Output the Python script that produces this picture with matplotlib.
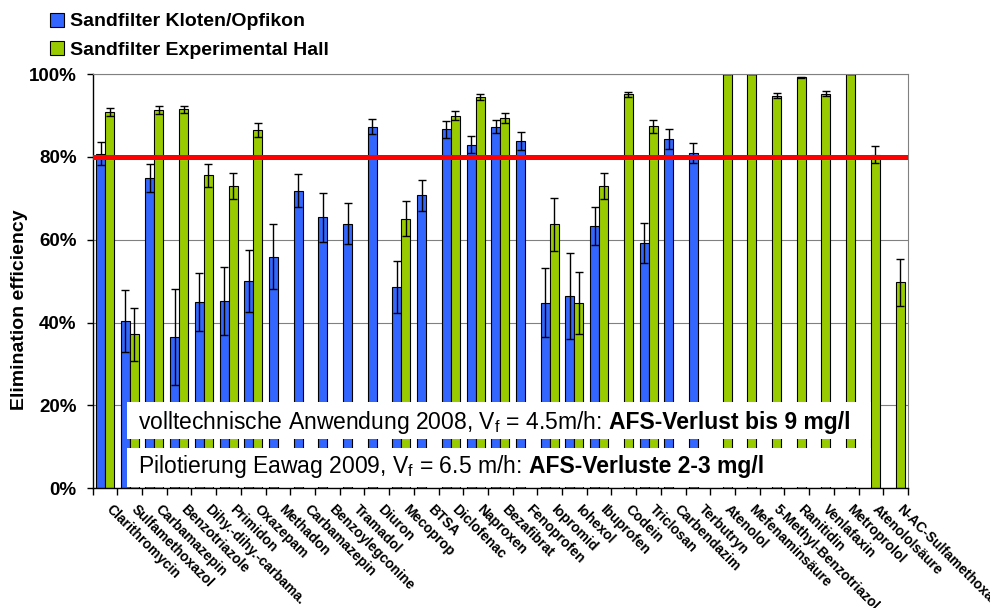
import numpy as np
import matplotlib.pyplot as plt
import matplotlib.transforms as mtransforms
from matplotlib.patches import Rectangle
from matplotlib.ticker import PercentFormatter, FixedLocator

plt.rcParams['font.family'] = ['Liberation Sans', 'DejaVu Sans']
plt.rcParams['mathtext.fontset'] = 'custom'
plt.rcParams['mathtext.rm'] = 'Liberation Sans'

nan = np.nan

substances = ['Clarithromycin', 'Sulfamethoxazol', 'Carbamazepin', 'Benzotriazole',
              'Dihy.-dihy.-carbama.', 'Primidon', 'Oxazepam', 'Methadon', 'Carbamazepin',
              'Benzoylegconine', 'Tramadol', 'Diuron', 'Mecoprop', 'BTSA', 'Diclofenac',
              'Naproxen', 'Bezafibrat', 'Fenoprofen', 'Iopromid', 'Iohexol', 'Ibuprofen',
              'Codein', 'Triclosan', 'Carbendazim', 'Terbutryn', 'Atenolol',
              'Mefenaminsäure', '5-Methyl-Benzotriazol', 'Ranitidin', 'Venlafaxin',
              'Metroprolol', 'Atenololsäure', 'N-AC-Sulfamethoxazol']

# elimination in %, Kloten/Opfikon full scale filter
kloten = [80.8, 40.4, 75.0, 36.5, 45.0, 45.2, 50.1, 55.9, 71.9, 65.4, 63.9, 87.3,
          48.6, 70.7, 86.7, 83.0, 87.3, 83.9, 44.8, 46.4, 63.3, nan, 59.3, 84.3,
          81.0, nan, nan, nan, nan, nan, nan, nan, nan]
kloten_err = [2.7, 7.5, 3.4, 11.6, 7.1, 8.3, 7.5, 7.8, 3.9, 5.9, 4.9, 1.8,
              6.3, 3.7, 2.1, 2.1, 1.6, 2.2, 8.3, 10.4, 4.5, nan, 4.8, 2.4,
              2.4, nan, nan, nan, nan, nan, nan, nan, nan]

# elimination in %, pilot filter in the experimental hall
hall = [90.9, 37.2, 91.3, 91.5, 75.6, 73.0, 86.5, nan, nan, nan, nan, nan,
        65.1, nan, 90.0, 94.5, 89.5, nan, 63.7, 44.8, 73.0, 95.1, 87.4, nan,
        nan, 100.0, 100.0, 94.8, 99.2, 95.3, 100.0, 80.6, 49.7]
hall_err = [1.0, 6.4, 1.0, 0.9, 2.8, 3.2, 1.7, nan, nan, nan, nan, nan,
            4.2, nan, 1.1, 0.7, 1.2, nan, 6.3, 7.5, 3.2, 0.5, 1.5, nan,
            nan, 0.0, 0.0, 0.6, 0.2, 0.6, 0.0, 2.1, 5.7]

target = 80

fig = plt.figure(figsize=(9.9, 6.08), dpi=100)
ax = fig.add_axes([0.0936, 0.197, 0.8235, 0.681])

x = np.arange(len(substances))
w = 0.364
err_style = dict(ecolor='black', elinewidth=1, capsize=3, capthick=1)
b1 = ax.bar(x - w / 2, kloten, w, yerr=kloten_err, color='#3366FF', edgecolor='black',
            linewidth=0.8, error_kw=err_style, label='Sandfilter Kloten/Opfikon', zorder=2)
b2 = ax.bar(x + w / 2, hall, w, yerr=hall_err, color='#99CC00', edgecolor='black',
            linewidth=0.8, error_kw=err_style, label='Sandfilter Experimental Hall', zorder=2)

ax.axhline(target, color='#FF0000', lw=3.6, zorder=4)

ax.set_xlim(-0.5, len(substances) - 0.5)
ax.set_ylim(0, 100)
ax.yaxis.set_major_locator(FixedLocator([0, 20, 40, 60, 80, 100]))
ax.yaxis.set_major_formatter(PercentFormatter(xmax=100, decimals=0))
ax.yaxis.grid(True, color='#808080', lw=0.8, zorder=0)
ax.set_axisbelow(True)

for s in ['top', 'right']:
    ax.spines[s].set_color('#808080')
    ax.spines[s].set_linewidth(0.8)
for s in ['left', 'bottom']:
    ax.spines[s].set_linewidth(1.0)

ax.tick_params(axis='y', direction='out', length=4.5, width=1, pad=7, labelsize=13.5)
for lab in ax.get_yticklabels():
    lab.set_fontweight('bold')

# category boundaries carry the tick marks, labels sit on the centres
ax.set_xticks(x)
ax.set_xticks(np.arange(-0.5, len(substances), 1.0), minor=True)
ax.tick_params(axis='x', which='major', length=0, pad=10)
ax.tick_params(axis='x', which='minor', direction='out', length=5, width=1)
ax.set_xticklabels(substances, rotation=-45, ha='left', va='top', rotation_mode='anchor',
                   fontsize=10, fontweight='bold')
shift = mtransforms.ScaledTranslation(6 / 72, 0, fig.dpi_scale_trans)
for lab in ax.get_xticklabels():
    lab.set_transform(lab.get_transform() + shift)

fig.text(20 / 990, 1 - 310 / 608, 'Elimination efficiency', rotation=90, ha='center',
         va='center', fontsize=14, fontweight='bold')

# white boxes with the filtration conditions: (box bottom, box height, baseline, texts)
boxes = [
    (0.120, 0.0885, 0.144, 'volltechnische Anwendung 2008, V$_\\mathregular{f}$ = 4.5m/h:',
     'AFS-Verlust bis 9 mg/l'),
    (0.003, 0.093, 0.036, 'Pilotierung Eawag 2009, V$_\\mathregular{f}$ = 6.5 m/h:',
     'AFS-Verluste 2-3 mg/l'),
]
renderer = fig.canvas.get_renderer()
for y0, h, base, plain, strong in boxes:
    ax.add_patch(Rectangle((0.042, y0), 0.913, h, transform=ax.transAxes,
                           facecolor='white', edgecolor='none', zorder=5))
    t = ax.text(0.0556, base, plain, transform=ax.transAxes, fontsize=16.5,
                va='baseline', ha='left', zorder=6)
    x_end = ax.transAxes.inverted().transform((t.get_window_extent(renderer).x1, 0))[0]
    ax.text(x_end + 7 / 815, base, strong, transform=ax.transAxes, fontsize=16.5,
            fontweight='bold', va='baseline', ha='left', zorder=6)

fig.legend(handles=[b1, b2], loc='upper left', bbox_to_anchor=(0.0505, 0.979),
           frameon=False, borderpad=0, borderaxespad=0, handlelength=0.72,
           handleheight=0.72, handletextpad=0.3, labelspacing=0.53,
           prop={'weight': 'bold', 'size': 14})

fig.savefig('out.png', dpi=100)
